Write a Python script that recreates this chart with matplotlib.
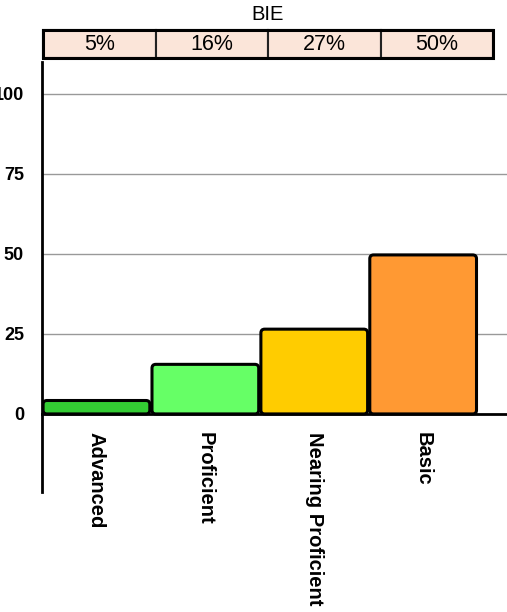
import matplotlib.pyplot as plt
from matplotlib.patches import FancyBboxPatch, Rectangle

plt.rcParams["font.family"] = ["Liberation Sans", "DejaVu Sans"]

categories = ["Advanced", "Proficient", "Nearing Proficient", "Basic"]
values = [4.2, 15.5, 26.5, 49.7]
pct_labels = ["5%", "16%", "27%", "50%"]
colors = ["#33CC33", "#66FF66", "#FFCC00", "#FF9933"]
yticks = [0, 25, 50, 75, 100]
header_title = "BIE"

W, H = 507, 612
fig = plt.figure(figsize=(W / 100, H / 100), dpi=100)

# main axes: left spine at x=42px, runs to right edge; y from 62px to 492px
ax = fig.add_axes([42 / W, 1 - 492 / H, (W - 42) / W, (492 - 62) / H])
ax.set_xlim(-0.5, 3.77)
ax.set_ylim(-24.4, 110)

bars = ax.bar(range(len(values)), values, width=0.98, color=colors)
# swap plain bars for rounded ones, same geometry
for b, c in zip(bars, colors):
    b.set_visible(False)
    x, y = b.get_x(), b.get_y()
    w, h = b.get_width(), b.get_height()
    ax.add_patch(FancyBboxPatch((x, y), w, h,
                                boxstyle="round,pad=0,rounding_size=0.035",
                                mutation_aspect=34, facecolor=c,
                                edgecolor="black", linewidth=2.2, zorder=3))

for t in yticks[1:]:
    ax.axhline(t, color="#999999", linewidth=1, zorder=1)

for s in ["top", "right"]:
    ax.spines[s].set_visible(False)
ax.spines["bottom"].set_position(("data", 0))
ax.spines["bottom"].set_linewidth(2)
ax.spines["left"].set_linewidth(2)
ax.spines["bottom"].set_zorder(4)

ax.set_yticks(yticks)
ax.set_yticklabels([str(t) for t in yticks], fontsize=13, fontweight="bold")
ax.tick_params(axis="y", length=0, pad=13)
ax.set_xticks(range(len(categories)))
ax.set_xticklabels(categories, rotation=270, fontsize=14.5, fontweight="bold",
                   va="top", ha="center")
ax.tick_params(axis="x", length=0, pad=13)

# header strip with percentages
hx = fig.add_axes([43 / W, 1 - 58 / H, 450 / W, 28 / H])
hx.set_xlim(0, len(pct_labels))
hx.set_ylim(0, 1)
hx.axis("off")
for i, lab in enumerate(pct_labels):
    hx.add_patch(Rectangle((i, 0), 1, 1, facecolor="#FBE5D9",
                           edgecolor="#222222", linewidth=1.5, clip_on=False))
    hx.text(i + 0.5, 0.47, lab, ha="center", va="center", fontsize=15.5)
hx.add_patch(Rectangle((0, 0), len(pct_labels), 1, fill=False,
                       edgecolor="black", linewidth=2.2, clip_on=False))
hx.text(len(pct_labels) / 2, 1.55, header_title, ha="center", va="center",
        fontsize=14.5)

fig.savefig("out.png", dpi=100)
